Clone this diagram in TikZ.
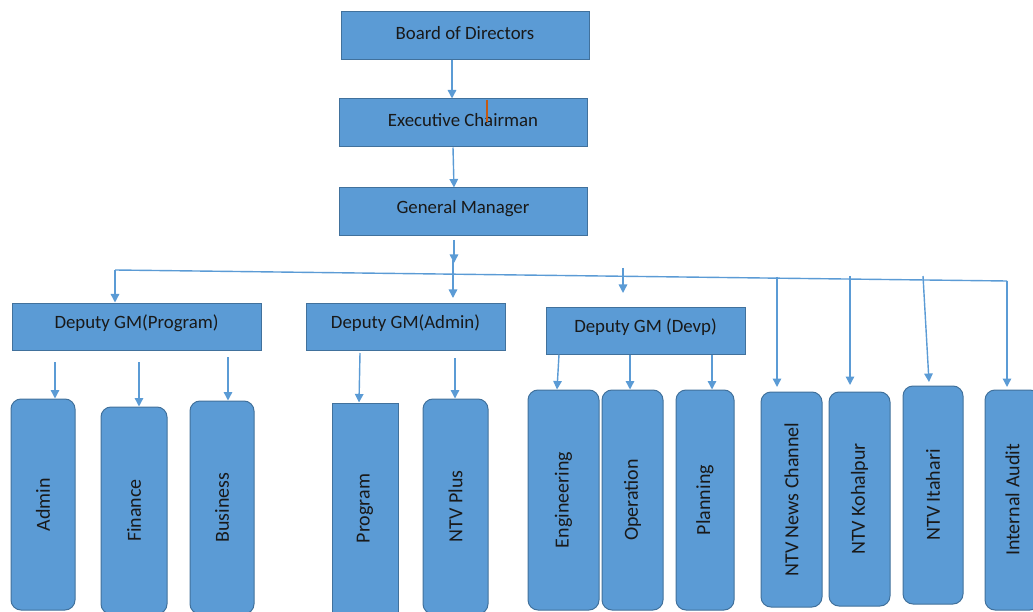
\documentclass[tikz,border=0pt]{standalone}
\usepackage{fontspec}
\setmainfont{Carlito}
\usetikzlibrary{arrows.meta}
\definecolor{boxc}{HTML}{5B9BD5}
\definecolor{bordc}{HTML}{41719C}
\definecolor{linec}{HTML}{5B9BD5}
\definecolor{cursorc}{HTML}{C55A11}
\newcommand{\up}[1]{\raisebox{3pt}[\height][\depth]{#1}}
\begin{document}
\begin{tikzpicture}[x=1pt,y=-1pt,
 hbox/.style={draw=bordc, line width=1pt, fill=boxc, inner sep=0pt, text=black!90, font=\fontsize{18.8}{21}\selectfont},
 vbox/.style={draw=bordc, line width=1pt, fill=boxc, inner sep=0pt, rotate=90, rounded corners=10pt, text=black!90, font=\fontsize{20}{22}\selectfont},
 sbox/.style={vbox, sharp corners},
 conn/.style={draw=linec, line width=1.4pt},
 arr/.style={conn, -{Triangle[width=8.5pt,length=8.5pt]}}]
\useasboundingbox (0,0) rectangle (1033,612);
\clip (0,0) rectangle (1033,612);

% top chain
\node[hbox, minimum width=248pt, minimum height=48pt] (bod) at (465,36) {\up{Board of Directors}};
\node[hbox, minimum width=248pt, minimum height=48pt] (ec) at (463,123) {\up{Executive Chairman}};
\node[hbox, minimum width=248pt, minimum height=48pt] (gm) at (463,212) {\up{General Manager}};
\draw[cursorc, line width=1.2pt] (487,100) -- (487,122);

% deputies
\node[hbox, minimum width=249pt, minimum height=47pt] (dgp) at (136.5,326.5) {\up{Deputy GM(Program)}};
\node[hbox, minimum width=199pt, minimum height=47pt] (dga) at (405.5,326.5) {\up{Deputy GM(Admin)}};
\node[hbox, minimum width=199pt, minimum height=47pt] (dgd) at (645.5,330.5) {\up{Deputy GM (Devp)}};

% vertical boxes
\node[vbox, minimum width=211pt, minimum height=64pt] (admin) at (43,504.5) {Admin};
\node[vbox, minimum width=207pt, minimum height=66pt] (fin) at (134,510.5) {Finance};
\node[vbox, minimum width=213pt, minimum height=64pt] (bus) at (222,507.5) {Business};
\node[sbox, minimum width=211pt, minimum height=66pt] (prog) at (365,508.5) {Program};
\node[vbox, minimum width=215pt, minimum height=65pt] (plus) at (455.5,506.5) {NTV Plus};
\node[vbox, minimum width=220pt, minimum height=71pt] (eng) at (563.5,500) {Engineering};
\node[vbox, minimum width=220pt, minimum height=61pt] (ops) at (632.5,500) {Operation};
\node[vbox, minimum width=220pt, minimum height=58pt] (plan) at (705,500) {Planning};
\node[vbox, minimum width=215pt, minimum height=61pt] (news) at (791.5,499.5) {NTV News Channel};
\node[vbox, minimum width=214pt, minimum height=61pt] (koh) at (859.5,499) {NTV Kohalpur};
\node[vbox, minimum width=218pt, minimum height=60pt] (ita) at (933,495) {NTV Itahari};
\node[vbox, minimum width=220pt, minimum height=55pt] (ia) at (1012.5,500) {Internal Audit};

% top arrows
\draw[arr] (bod.south -| 452,0) -- (ec.north -| 452,0);
\draw[arr] (ec.south -| 453,0) -- (gm.north -| 454,0);
\coordinate (gmo) at (454,240);
\draw[arr] (gmo) -- (454,263);

% bus
\coordinate (busL) at (115,270);
\coordinate (busR) at (1007,281);
\draw[conn] (busL) -- (busR);

\draw[arr] (busL) -- (dgp.north -| busL);
\coordinate (ba) at (453,260);
\draw[arr] (ba) -- (453,298);
\coordinate (bd) at (623,268);
\draw[arr] (bd) -- (623,293);
\coordinate (bn) at (777,277);
\draw[arr] (bn) -- (777,387);
\coordinate (bk) at (850,276);
\draw[arr] (bk) -- (850,385);
\coordinate (bi) at (923,276);
\draw[arr] (bi) -- (929,382);
\draw[arr] (busR) -- (1007,387);

% program arrows
\draw[arr] (55,362) -- (admin.east -| 55,0);
\draw[arr] (139,362) -- (fin.east -| 139,0);
\draw[arr] (228,357) -- (bus.east -| 228,0);
% admin arrows
\draw[arr] (360,353) -- (prog.east -| 359,0);
\draw[arr] (455,358) -- (plus.east -| 455,0);
% devp arrows
\draw[arr] (dgd.south -| 559,0) -- (eng.east -| 557,0);
\draw[arr] (dgd.south -| 630,0) -- (ops.east -| 630,0);
\draw[arr] (dgd.south -| 712,0) -- (plan.east -| 712,0);
\end{tikzpicture}
\end{document}
